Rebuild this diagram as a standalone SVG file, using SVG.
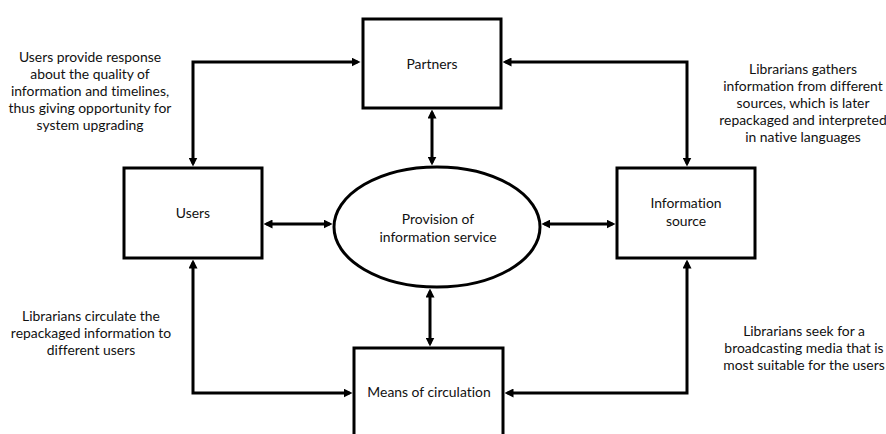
<svg xmlns="http://www.w3.org/2000/svg" width="886" height="434" viewBox="0 0 886 434">
<style>
  .box { fill: #ffffff; stroke: #000000; stroke-width: 3; }
  .conn { fill: none; stroke: #000000; stroke-width: 3; marker-start: url(#ah); marker-end: url(#ah); }
  text { font-family: Lato, "Liberation Sans", Arial, sans-serif; font-size: 13.9px; fill: #111111; text-anchor: middle; font-variant-ligatures: none; font-feature-settings: "liga" 0, "dlig" 0; }
</style>
<defs>
  <marker id="ah" viewBox="0 0 9 9" refX="6" refY="4.5" markerWidth="9" markerHeight="9" markerUnits="userSpaceOnUse" orient="auto-start-reverse">
    <path d="M0,0 L9,4.5 L0,9 z" fill="#000000"/>
  </marker>
</defs>
<rect width="886" height="434" fill="#ffffff"/>

<g id="partners">
  <rect class="box" x="363" y="19" width="138" height="89"/>
  <text x="432" y="69">Partners</text>
</g>
<g id="users">
  <rect class="box" x="124" y="168" width="138" height="90"/>
  <text x="193" y="218">Users</text>
</g>
<g id="information-source">
  <rect class="box" x="617" y="168" width="138" height="90"/>
  <text x="686" y="208">Information</text>
  <text x="686" y="226">source</text>
</g>
<g id="provision">
  <ellipse class="box" cx="437" cy="227" rx="103" ry="60"/>
  <text x="438" y="224">Provision of</text>
  <text x="438" y="242">information service</text>
</g>
<g id="means-of-circulation">
  <rect class="box" x="354" y="348" width="149" height="100"/>
  <text x="429" y="397">Means of circulation</text>
</g>

<g id="connectors">
  <path class="conn" d="M193,163.5 V62 H357.5"/>
  <path class="conn" d="M505.5,62 H687 V163.5"/>
  <path class="conn" d="M193,262.5 V393 H349.5"/>
  <path class="conn" d="M687,262.5 V393 H507.5"/>
  <path class="conn" d="M432,112.5 V162.6"/>
  <path class="conn" d="M430,291.5 V343.5"/>
  <path class="conn" d="M266.5,224 H329.6"/>
  <path class="conn" d="M544.4,224 H612.5"/>
</g>

<g id="note-users-partners">
  <text x="90" y="62">Users provide response</text>
  <text x="90" y="79">about the quality of</text>
  <text x="90" y="96">information and timelines,</text>
  <text x="90" y="113">thus giving opportunity for</text>
  <text x="90" y="130">system upgrading</text>
</g>
<g id="note-partners-source">
  <text x="803" y="74">Librarians gathers</text>
  <text x="803" y="91">information from different</text>
  <text x="803" y="108">sources, which is later</text>
  <text x="803" y="125">repackaged and interpreted</text>
  <text x="803" y="142">in native languages</text>
</g>
<g id="note-users-means">
  <text x="91" y="321">Librarians circulate the</text>
  <text x="91" y="338">repackaged information to</text>
  <text x="91" y="355">different users</text>
</g>
<g id="note-source-means">
  <text x="804" y="336">Librarians seek for a</text>
  <text x="804" y="353">broadcasting media that is</text>
  <text x="804" y="370">most suitable for the users</text>
</g>
</svg>
